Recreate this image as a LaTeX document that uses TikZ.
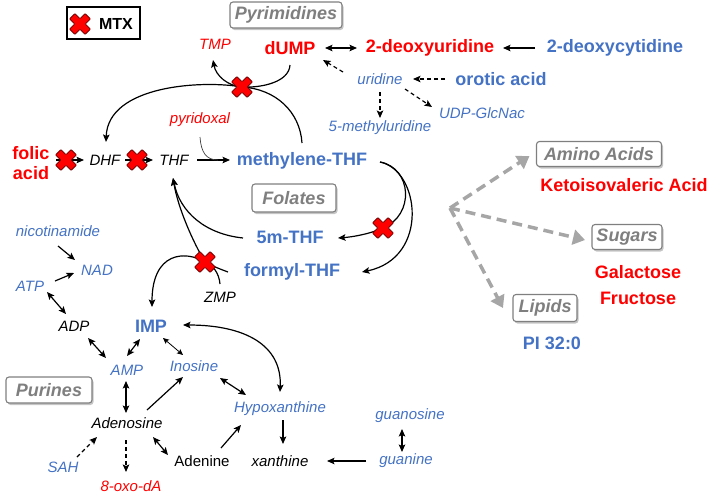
\documentclass[tikz,border=0pt]{standalone}
\usepackage{fontspec}
\setmainfont{Liberation Sans}
\usetikzlibrary{arrows.meta,calc,shadows}
\definecolor{mred}{HTML}{FF0000}
\definecolor{mblue}{HTML}{4472C4}
\definecolor{mgray}{HTML}{7F7F7F}
\definecolor{xdark}{HTML}{7A0000}
\tikzset{
  xmk/.pic={\filldraw[fill=mred, draw=xdark, line width=0.8pt, rotate=45, rounded corners=0.6pt]
    (-3.7,-11) -- (3.7,-11) -- (3.7,-3.7) -- (11,-3.7) -- (11,3.7) -- (3.7,3.7) -- (3.7,11)
    -- (-3.7,11) -- (-3.7,3.7) -- (-11,3.7) -- (-11,-3.7) -- (-3.7,-3.7) -- cycle;}
}
\begin{document}
\begin{tikzpicture}[x=1pt,y=-1pt,
  every node/.style={inner sep=0pt, outer sep=0pt},
  rb/.style={text=mred, font=\fontsize{18}{20}\selectfont\bfseries},
  bb/.style={text=mblue, font=\fontsize{18}{20}\selectfont\bfseries},
  ri/.style={text=mred, font=\fontsize{15}{17}\selectfont\itshape},
  bi/.style={text=mblue, font=\fontsize{15}{17}\selectfont\itshape},
  ki/.style={text=black, font=\fontsize{15}{17}\selectfont\itshape},
  kr/.style={text=black, font=\fontsize{15}{17}\selectfont},
  catbox/.style={draw=mgray, line width=1.1pt, rounded corners=3pt, fill=white, text=mgray,
    font=\fontsize{18}{20}\selectfont\bfseries\itshape, minimum height=26pt,
    drop shadow={shadow xshift=1.5pt, shadow yshift=-2pt, fill=black!45, opacity=0.5}},
  tip/.tip={Stealth[length=7.5pt,width=6.5pt,inset=1.5pt]},
  arr/.style={line width=1.2pt, -tip},
  darr/.style={line width=1.2pt, tip-tip},
  tarr/.style={line width=0.8pt, {Stealth[length=6pt,width=5.5pt,inset=1.2pt]}-{Stealth[length=6pt,width=5.5pt,inset=1.2pt]}},
  dsh/.style={arr, dash pattern=on 4pt off 3pt},
  garr/.style={line width=3.5pt, draw=black!35, dash pattern=on 10pt off 6pt,
    -{Triangle[length=12pt,width=15pt]}},
]
\useasboundingbox (0,0) rectangle (709,493);

% legend
\node[draw, line width=1.3pt, minimum width=73pt, minimum height=32pt] (legend) at (103.5,23) {};
\node[font=\fontsize{16}{18}\selectfont\bfseries] (mtx) at (116,24) {MTX};

% category boxes
\node[catbox, minimum width=112pt] (pyr) at (286,15) {Pyrimidines};
\node[catbox, minimum width=84pt, minimum height=28pt] (folates) at (294,198) {Folates};
\node[catbox, minimum width=86pt] (purines) at (49,390) {Purines};
\node[catbox, minimum width=125pt, minimum height=25pt] (amino) at (599,154) {Amino Acids};
\node[catbox, minimum width=70pt, minimum height=25pt] (sugars) at (627,237) {Sugars};
\node[catbox, minimum width=64pt, minimum height=27pt] (lipids) at (545,308) {Lipids};

% pyrimidines
\node[ri] (TMP) at (215,44) {TMP};
\node[rb] (dUMP) at (290,48) {dUMP};
\node[rb] (dU) at (430,48) {2-deoxyuridine};
\node[bb] (dC) at (615,48) {2-deoxycytidine};
\node[bb] (orotic) at (501,79) {orotic acid};
\node[bi] (uridine) at (380,79) {uridine};
\node[bi] (mU) at (380,128) {5-methyluridine};
\node[bi] (UDP) at (482,113) {UDP-GlcNac};

% folates
\node[rb, align=center, font=\fontsize{18}{20}\selectfont\bfseries] (folic) at (31,163) {folic\\acid};
\node[ki] (DHF) at (105,160) {DHF};
\node[ki] (THF) at (174,160) {THF};
\node[ri] (pyridoxal) at (200,120) {pyridoxal};
\node[bb] (mTHF) at (302,161) {methylene-THF};
\node[bb] (fiveTHF) at (290,237) {5m-THF};
\node[bb] (formyl) at (292,272) {formyl-THF};
\node[ki] (ZMP) at (220,297) {ZMP};

% purines
\node[bi] (nico) at (58,231) {nicotinamide};
\node[bi] (NAD) at (97,270) {NAD};
\node[bi] (ATP) at (30,286) {ATP};
\node[ki] (ADP) at (74,326) {ADP};
\node[bb] (IMP) at (151,326) {IMP};
\node[bi] (AMP) at (127,370) {AMP};
\node[bi] (Inosine) at (194,366) {Inosine};
\node[ki] (Adenosine) at (127,423) {Adenosine};
\node[bi] (Hypox) at (280,409) {Hypoxanthine};
\node[bi] (SAH) at (63,467) {SAH};
\node[ri] (oxo) at (131,486) {8-oxo-dA};
\node[kr] (Adenine) at (202,461) {Adenine};
\node[ki] (xanthine) at (280,461) {xanthine};
\node[bi] (guanine) at (406,461) {guanine};
\node[bi] (guanosine) at (410,416) {guanosine};

% other classes
\node[rb] (keto) at (624,185) {Ketoisovaleric Acid};
\node[rb] (gal) at (638,272) {Galactose};
\node[rb] (fru) at (638,298) {Fructose};
\node[bb] (PI) at (552,343) {PI 32:0};

\coordinate (x1) at (242,87);
\coordinate (x2) at (383,228);
\coordinate (x3) at (205,262);
\coordinate (hub) at (450,208);

% pyrimidine connectors
\draw[darr] ($(dUMP)+(35,0)$) -- ($(dU)+(-73,0)$);
\draw[arr] ($(dC)+(-80,0)$) -- ($(dU)+(73,0)$);
\draw[dsh] ($(orotic)+(-56,0)$) -- ($(uridine)+(33,0)$);
\draw[dsh] ($(uridine)+(-37,-7)$) -- ($(dUMP)+(33,12)$);
\draw[dsh] ($(uridine)+(0,13)$) -- ($(mU)+(0,-10)$);
\draw[dsh] ($(uridine)+(25,10)$) -- ($(UDP)+(-50,-6)$);

% folate connectors
\draw[arr] ($(folic)+(25,-3)$) -- ($(DHF)+(-21,0)$);
\draw[arr] ($(DHF)+(20,0)$) -- ($(THF)+(-21,0)$);
\draw[arr] ($(THF)+(23,0)$) -- ($(mTHF)+(-72,-1)$);
\draw[line width=0.7pt, black!75] ($(pyridoxal)+(0,17)$) .. controls ($(pyridoxal)+(1,32)$) and ($(THF)+(32,0)$) .. ($(THF)+(44,0)$);
\draw[arr] ($(mTHF)+(0,-18)$) .. controls (300,112) and (276,89) .. (x1)
  .. controls (203,80) and (108,85) .. ($(DHF)+(1,-18)$);
\draw[arr] ($(dUMP)+(0,17)$) .. controls (289,82) and (262,88) .. (x1)
  .. controls (228,86) and (216,76) .. ($(TMP)+(-2,16)$);
\draw[arr] ($(mTHF)+(78,1)$) .. controls (412,168) and (415,215) .. (x2)
  .. controls (370,234) and (352,237) .. ($(fiveTHF)+(48,1)$);
\draw[arr] ($(mTHF)+(78,1)$) .. controls (420,170) and (430,258) .. ($(formyl)+(70,0)$);
\draw[arr] ($(fiveTHF)+(-47,1)$) .. controls (205,234) and (180,212) .. ($(THF)+(-1,18)$);
\draw[arr] ($(formyl)+(-64,0)$) .. controls (220,269) and (212,266) .. (x3)
  .. controls (193,242) and (178,208) .. ($(THF)+(-1,18)$);
\draw[arr] ($(ZMP)+(0,-13)$) .. controls (219,273) and (213,265) .. (x3)
  .. controls (185,250) and (152,252) .. ($(IMP)+(1,-19)$);

% purine connectors
\draw[darr] ($(IMP)+(32,-1)$) .. controls (245,325) and (282,345) .. ($(Hypox)+(0,-17)$);
\draw[arr] ($(nico)+(0,15)$) -- ($(NAD)+(-22,-10)$);
\draw[arr] ($(ATP)+(25,-5)$) -- ($(NAD)+(-23,3)$);
\draw[darr] ($(ATP)+(17,6)$) -- ($(ADP)+(-8,-12)$);
\draw[darr] ($(ADP)+(14,12)$) -- ($(AMP)+(-21,-12)$);
\draw[darr] ($(IMP)+(-11,13)$) -- ($(AMP)+(0,-14)$);
\draw[tarr] ($(IMP)+(12,12)$) -- ($(Inosine)+(-11,-11)$);
\draw[darr] ($(AMP)+(-1,11)$) -- ($(Adenosine)+(-1,-10)$);
\draw[arr] ($(Adenosine)+(20,-13)$) -- ($(Inosine)+(-11,11)$);
\draw[darr] ($(Inosine)+(26,12)$) -- ($(Hypox)+(-34,-14)$);
\draw[dsh] ($(SAH)+(14,-10)$) -- ($(Adenosine)+(-30,14)$);
\draw[dsh] ($(Adenosine)+(-1,17)$) -- ($(oxo)+(-5,-14)$);
\draw[darr] ($(Adenosine)+(26,14)$) -- ($(Adenine)+(-34,-6)$);
\draw[arr] ($(Adenine)+(19,-13)$) -- ($(Hypox)+(-39,16)$);
\draw[arr] ($(Hypox)+(3,11)$) -- ($(xanthine)+(3,-17)$);
\draw[arr] ($(guanine)+(-40,0)$) -- ($(xanthine)+(47,0)$);
\draw[darr] ($(guanosine)+(-8,13)$) -- ($(guanine)+(-4,-9)$);

% gray dashed arrows
\draw[garr] (hub) -- ($(amino.west)+(-7,2)$);
\draw[garr] (hub) -- ($(sugars.west)+(-7,3)$);
\draw[garr] (hub) -- ($(lipids.west)+(-10,0)$);

% MTX marks
\pic at (80,24) {xmk};
\pic at (66,160) {xmk};
\pic at (137,160) {xmk};
\pic at (x1) {xmk};
\pic at (x2) {xmk};
\pic at (x3) {xmk};
\end{tikzpicture}
\end{document}
